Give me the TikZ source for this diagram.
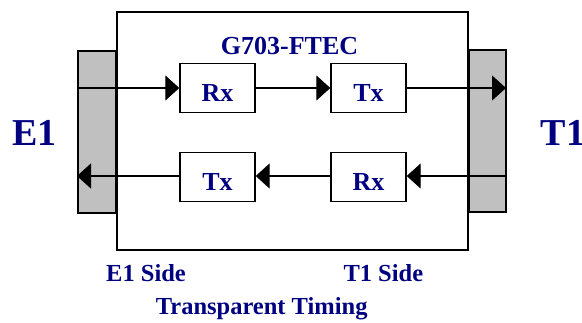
\documentclass[tikz,border=0pt]{standalone}
\usepackage{fontspec}
\setmainfont{Liberation Serif}
\usetikzlibrary{arrows.meta}
\definecolor{navy}{HTML}{000080}
\definecolor{bargray}{HTML}{C0C0C0}
\begin{document}
\begin{tikzpicture}[x=1pt,y=-1pt,
  lbl/.style={text=navy,font=\bfseries\fontsize{26}{26}\selectfont,inner sep=0pt,anchor=base},
  sidelbl/.style={text=navy,font=\bfseries\fontsize{24.5}{24.5}\selectfont,inner sep=0pt,anchor=base},
  biglbl/.style={text=navy,font=\bfseries\fontsize{38}{38}\selectfont,inner sep=0pt,anchor=base},
  blk/.style={draw,fill=white,line width=1.4pt,minimum width=75pt,minimum height=49pt,inner sep=0pt,
    text=navy,font=\bfseries\fontsize{26}{26}\selectfont,text height=26.4pt,text depth=0pt},
  bar/.style={draw,fill=bargray,line width=1.4pt,inner sep=0pt},
  sig/.style={line width=1.1pt,-{Triangle[length=14pt,width=25pt]}}]
\useasboundingbox (0,0) rectangle (582,322);
% main card
\node[draw,line width=1.8pt,minimum width=351pt,minimum height=238pt,inner sep=0pt] (card) at (292.5,131) {};
% connector bars
\node[bar,minimum width=38pt,minimum height=162pt] (barL) at (97,132) {};
\node[bar,minimum width=37pt,minimum height=162pt] (barR) at (487.5,131) {};
% blocks
\node[blk] (rxA) at (217.5,88) {Rx};
\node[blk] (txA) at (368.5,88) {Tx};
\node[blk] (txB) at (217.5,177) {Tx};
\node[blk] (rxB) at (368.5,177) {Rx};
% end points
\coordinate (inL) at (77,88);
\coordinate (outR) at (506,88);
\coordinate (inR) at (506,176);
\coordinate (outL) at (77,176);
% signals
\draw[sig] (inL) -- (rxA.west);
\draw[sig] (rxA.east) -- (txA.west);
\draw[sig] (txA.east) -- (outR);
\draw[sig] (inR) -- (rxB.east |- inR);
\draw[sig] (rxB.west |- inR) -- (txB.east |- inR);
\draw[sig] (txB.west |- inR) -- (outL);
% labels
\node[lbl] (title) at (289.5,54) {G703-FTEC};
\node[biglbl] (e1) at (34.7,145.7) {E1};
\node[biglbl,anchor=base west] (t1) at (540.7,145.7) {T1};
\node[sidelbl,anchor=base west] (e1side) at (106,281) {E1 Side};
\node[sidelbl,anchor=base west] (t1side) at (343.3,281) {T1 Side};
\node[sidelbl] (timing) at (261.7,314.5) {Transparent Timing};
\end{tikzpicture}
\end{document}
